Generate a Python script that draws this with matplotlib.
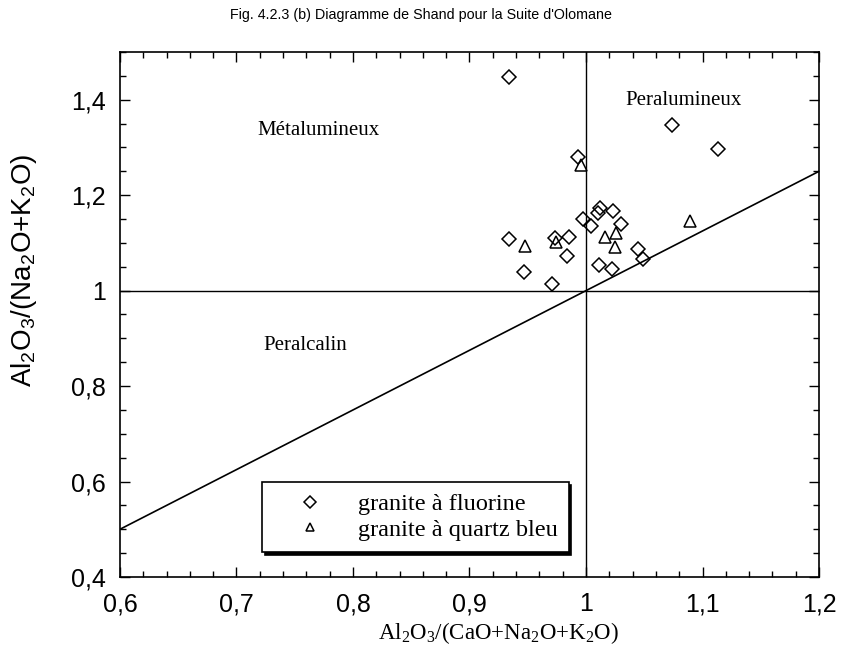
import matplotlib
matplotlib.use("Agg")
import matplotlib.pyplot as plt
from matplotlib.ticker import MultipleLocator, FuncFormatter

# Diagramme de Shand - Suite d'Olomane
# granite a fluorine (losanges)
fluor_x = [0.934, 1.074, 1.113, 0.993, 0.934, 0.947, 0.971, 0.973, 0.985, 0.984,
           0.997, 1.004, 1.012, 1.010, 1.023, 1.030, 1.011, 1.022, 1.045, 1.049]
fluor_y = [1.448, 1.347, 1.297, 1.281, 1.109, 1.040, 1.013, 1.111, 1.113, 1.072,
           1.150, 1.135, 1.173, 1.162, 1.166, 1.140, 1.053, 1.046, 1.087, 1.067]
# granite a quartz bleu (triangles)
quartz_x = [0.996, 1.089, 0.948, 0.974, 1.016, 1.026, 1.025]
quartz_y = [1.264, 1.145, 1.094, 1.101, 1.112, 1.121, 1.091]

# ligne de Shand: passe par (0.6, 0.5) et (1.2, 1.25)
diag_x = [0.6, 1.2]
diag_y = [0.5, 1.25]

serif = "Liberation Serif"
sans = "Liberation Sans"
plt.rcParams["mathtext.default"] = "regular"

fig = plt.figure(figsize=(8.42, 6.72), dpi=100)
ax = fig.add_axes([0.1425, 0.1414, 0.8302, 0.7812])

ax.axhline(1, color="black", lw=1)
ax.axvline(1, color="black", lw=1)
ax.plot(diag_x, diag_y, color="black", lw=1.2)

ax.plot(fluor_x, fluor_y, "D", ms=7, mfc="none", mec="black", mew=1.1,
        label="granite à fluorine")
ax.plot(quartz_x, quartz_y, "^", ms=9, mfc="none", mec="black", mew=1.1,
        label="granite à quartz bleu")

ax.set_xlim(0.6, 1.2)
ax.set_ylim(0.4, 1.5)
ax.xaxis.set_major_locator(MultipleLocator(0.1))
ax.xaxis.set_minor_locator(MultipleLocator(0.02))
ax.yaxis.set_major_locator(MultipleLocator(0.2))
ax.yaxis.set_minor_locator(MultipleLocator(0.05))


def virgule(v, pos):
    s = "%g" % round(v, 2)
    return s.replace(".", ",")


ax.xaxis.set_major_formatter(FuncFormatter(virgule))
ax.yaxis.set_major_formatter(FuncFormatter(virgule))
ax.set_yticks([0.4, 0.6, 0.8, 1.0, 1.2, 1.4])
ax.tick_params(which="both", direction="in", top=True, right=True, width=1)
ax.tick_params(which="major", length=7, labelsize=18)
ax.tick_params(axis="x", which="major", pad=11)
ax.tick_params(axis="y", which="major", pad=10)
ax.tick_params(which="minor", length=4)
for lab in ax.get_xticklabels() + ax.get_yticklabels():
    lab.set_family(sans)
for sp in ax.spines.values():
    sp.set_linewidth(1.2)

ax.text(0.718, 1.335, "Métalumineux", family=serif, fontsize=15, va="center")
ax.text(1.034, 1.398, "Peralumineux", family=serif, fontsize=15, va="center")
ax.text(0.723, 0.884, "Peralcalin", family=serif, fontsize=15, va="center")

ax.set_xlabel("Al$_2$O$_3$/(CaO+Na$_2$O+K$_2$O)", family=serif, fontsize=16.5)
ax.xaxis.set_label_coords(0.541, -0.082)
# label de l'axe y place a la main (decale vers le haut comme sur l'original)
fig.text(24 / 842, 1 - 270 / 672, "Al$_2$O$_3$/(Na$_2$O+K$_2$O)", family=sans,
         fontsize=20, rotation=90, ha="center", va="center")

leg = ax.legend(loc="lower left", bbox_to_anchor=(0.203, 0.048),
                prop={"family": serif, "size": 17.5}, fancybox=False,
                shadow={"color": "black", "alpha": 1}, framealpha=1,
                edgecolor="black", borderpad=0.45, handletextpad=0.4,
                handlelength=3.1, labelspacing=0.15, borderaxespad=0)
leg.get_frame().set_linewidth(1.2)
for h in leg.legend_handles:
    h.set_markersize(6)

fig.suptitle("Fig. 4.2.3 (b) Diagramme de Shand pour la Suite d'Olomane",
             family=sans, fontsize=10.3, y=0.988)

fig.savefig("out.png", dpi=100)
